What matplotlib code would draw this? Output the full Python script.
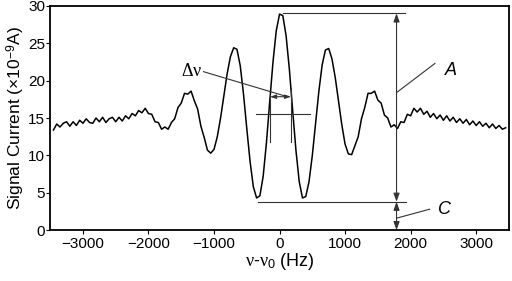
import matplotlib
matplotlib.use('Agg')
import matplotlib.pyplot as plt

plt.rcParams['font.family'] = ['Liberation Sans', 'DejaVu Sans']
plt.rcParams['mathtext.fontset'] = 'custom'
plt.rcParams['mathtext.rm'] = 'Liberation Serif'
plt.rcParams['mathtext.it'] = 'Liberation Serif:italic'
plt.rcParams['mathtext.sf'] = 'Liberation Sans'

# detuning (Hz) and signal current (x1e-9 A)
freq = [-3450, -3400, -3350, -3300, -3250, -3200, -3150, -3100, -3050, -3000,
        -2950, -2900, -2850, -2800, -2750, -2700, -2650, -2600, -2550, -2500,
        -2450, -2400, -2350, -2300, -2250, -2200, -2150, -2100, -2050, -2000,
        -1950, -1900, -1850, -1800, -1750, -1700, -1650, -1600, -1550, -1500,
        -1450, -1400, -1350, -1300, -1250, -1200, -1150, -1100, -1050, -1000,
        -950, -900, -850, -800, -750, -700, -650, -600, -550, -500,
        -450, -400, -350, -300, -250, -200, -150, -100, -50, 0,
        50, 100, 150, 200, 250, 300, 350, 400, 450, 500,
        550, 600, 650, 700, 750, 800, 850, 900, 950, 1000,
        1050, 1100, 1150, 1200, 1250, 1300, 1350, 1400, 1450, 1500,
        1550, 1600, 1650, 1700, 1750, 1800, 1850, 1900, 1950, 2000,
        2050, 2100, 2150, 2200, 2250, 2300, 2350, 2400, 2450, 2500,
        2550, 2600, 2650, 2700, 2750, 2800, 2850, 2900, 2950, 3000,
        3050, 3100, 3150, 3200, 3250, 3300, 3350, 3400, 3450]
signal = [13.4, 14.2, 13.8, 14.3, 14.5, 13.9, 14.5, 14.0, 14.7, 14.3,
          14.9, 14.4, 14.3, 15.0, 14.5, 15.1, 14.4, 14.9, 15.1, 14.5,
          15.1, 14.6, 15.3, 14.9, 15.6, 15.3, 16.0, 15.7, 16.3, 15.6,
          15.5, 14.5, 14.4, 13.5, 13.8, 13.5, 14.4, 14.9, 16.4, 17.0,
          18.3, 18.2, 18.6, 17.3, 16.2, 13.9, 12.4, 10.7, 10.3, 10.8,
          12.5, 15.0, 18.0, 20.9, 23.2, 24.4, 24.2, 22.0, 18.2, 13.6,
          9.2, 5.8, 4.3, 4.6, 7.2, 11.7, 17.2, 22.5, 26.7, 28.9,
          28.7, 26.0, 21.5, 16.0, 10.7, 6.5, 4.3, 4.5, 6.5, 10.0,
          14.3, 18.6, 22.1, 24.1, 24.3, 22.9, 20.4, 17.2, 14.1, 11.5,
          10.2, 10.1, 11.3, 12.5, 14.9, 16.4, 18.3, 18.3, 18.6, 17.4,
          17.0, 15.4, 15.0, 13.8, 14.1, 13.6, 14.5, 14.4, 15.5, 15.3,
          16.3, 15.8, 16.3, 15.5, 15.9, 15.1, 15.6, 14.9, 15.4, 14.7,
          15.3, 14.6, 15.1, 14.4, 14.9, 14.3, 14.8, 14.1, 14.6, 14.0,
          14.5, 13.9, 14.3, 13.7, 14.2, 13.6, 14.0, 13.5, 13.7]

fig = plt.figure(figsize=(5.12, 2.81), dpi=100)
ax = fig.add_axes([0.098, 0.181, 0.896, 0.798])

ax.plot(freq, signal, color='black', lw=1.1)

gray = '#333333'
# guide lines
ax.plot([50, 1910], [29.0, 29.0], color=gray, lw=0.8)
ax.plot([-330, 1925], [3.8, 3.8], color=gray, lw=0.8)
ax.plot([-360, 460], [15.6, 15.6], color=gray, lw=0.8)
ax.plot([-145, -145], [11.8, 18.1], color=gray, lw=0.8)
ax.plot([175, 175], [11.8, 19.0], color=gray, lw=0.8)

arr = dict(arrowstyle='<|-|>,head_length=0.5,head_width=0.18', color=gray, lw=0.8,
           shrinkA=0, shrinkB=0)
ax.annotate('', xy=(1785, 29.0), xytext=(1785, 3.8), arrowprops=arr)
ax.annotate('', xy=(1785, 3.8), xytext=(1785, 0), arrowprops=arr)
ax.annotate('', xy=(-145, 17.85), xytext=(175, 17.85),
            arrowprops=dict(arrowstyle='<|-|>,head_length=0.35,head_width=0.12',
                            color=gray, lw=0.8, shrinkA=0, shrinkB=0))

# labels with leader lines
ax.plot([-1160, 120], [21.2, 17.85], color=gray, lw=0.8)
ax.text(-1180, 21.2, r'$\mathrm{\Delta\nu}$', fontsize=13, ha='right', va='center')
ax.plot([1785, 2370], [18.4, 22.3], color=gray, lw=0.8)
ax.text(2620, 21.4, 'A', fontsize=13, style='italic', ha='center', va='center')
ax.plot([1785, 2290], [1.6, 2.8], color=gray, lw=0.8)
ax.text(2520, 2.8, 'C', fontsize=13, style='italic', ha='center', va='center')

ax.set_xlim(-3500, 3500)
ax.set_ylim(0, 30)
ax.set_xticks([-3000, -2000, -1000, 0, 1000, 2000, 3000])
ax.set_yticks([0, 5, 10, 15, 20, 25, 30])
ax.tick_params(direction='out', length=3, width=0.8, labelsize=11)
ax.tick_params(axis='x', pad=2)
ax.tick_params(axis='y', pad=0.5)
for s in ax.spines.values():
    s.set_linewidth(1.3)

ax.set_xlabel(r'$\mathrm{\nu}$-$\mathrm{\nu}_{\mathsf{0}}$ (Hz)', fontsize=13, labelpad=0)
ax.set_ylabel(r'Signal Current (×10$^{\mathsf{-9}}$A)', fontsize=12.5, labelpad=1)

fig.savefig('out.png', dpi=100)
